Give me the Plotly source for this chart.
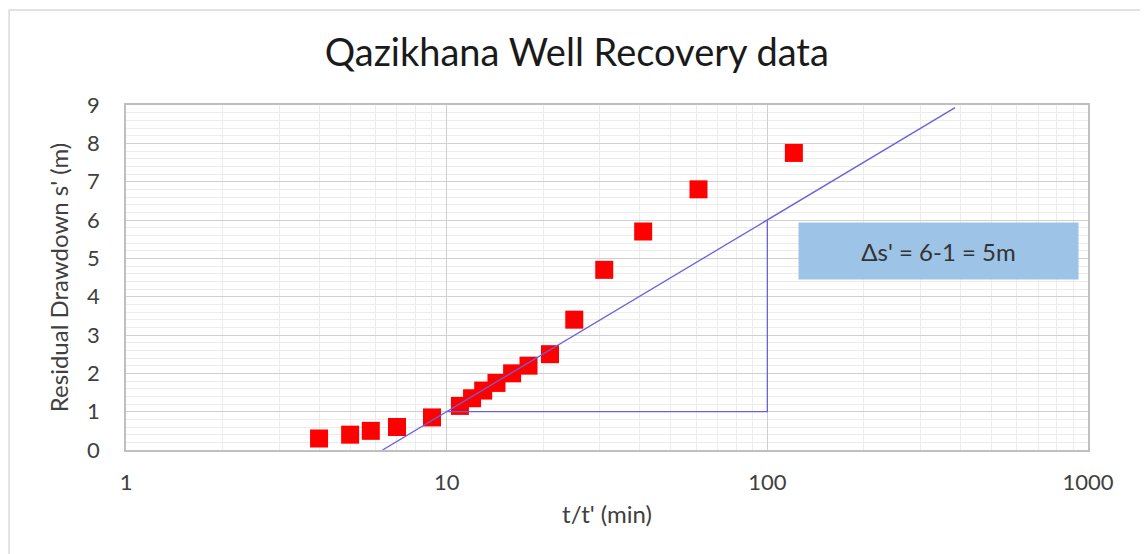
import plotly.graph_objects as go

# recovery data: t/t' (dimensionless time ratio) and residual drawdown s' (m)
t_ratio = [4, 5, 5.8, 7, 9, 11, 12, 13, 14.3, 16, 18, 21, 25, 31, 41, 61, 121]
residual = [0.3, 0.4, 0.5, 0.6, 0.85, 1.15, 1.35, 1.55, 1.75, 2.0, 2.2, 2.5, 3.4, 4.7, 5.7, 6.8, 7.75]

# fitted straight line (one log cycle = 5 m)
fit_t = [6.31, 385]
fit_s = [0, 8.93]

# slope triangle
tri_t = [10, 100, 100]
tri_s = [1, 1, 6]

x_ticks = [1, 10, 100, 1000]

font = "Lato, 'Open Sans', sans-serif"
line_col = "rgb(106,96,222)"

fig = go.Figure()

fig.add_trace(go.Scatter(
    x=t_ratio, y=residual, mode="markers",
    marker=dict(symbol="square", size=18, color="#ff0000"),
    showlegend=False
))
fig.add_trace(go.Scatter(
    x=fit_t, y=fit_s, mode="lines",
    line=dict(color=line_col, width=1.3), showlegend=False
))
fig.add_trace(go.Scatter(
    x=tri_t, y=tri_s, mode="lines",
    line=dict(color=line_col, width=1.3), showlegend=False
))

# text box with the drawdown difference
fig.add_annotation(
    x=2.533, y=5.18, xref="x", yref="y",
    text="Δs' = 6-1 = 5m", showarrow=False,
    width=277, height=54, bgcolor="#9dc3e6",
    font=dict(family=font, size=24, color="#333333")
)

# outer chart border
fig.add_shape(type="rect", xref="paper", yref="paper",
              x0=-0.1215, x1=1.2, y0=-0.5, y1=1.2754,
              line=dict(color="#d9d9d9", width=1.5), fillcolor="rgba(0,0,0,0)",
              layer="below")

fig.update_layout(
    width=1140, height=546,
    margin=dict(l=118, r=60, t=97, b=104),
    paper_bgcolor="white", plot_bgcolor="white",
    font=dict(family=font, color="#404040"),
    title=dict(text="Qazikhana Well Recovery data", x=0.499, xanchor="center",
               y=0.919, yanchor="middle", font=dict(size=38, color="#1a1a1a")),
)

fig.update_xaxes(
    type="log", range=[0, 3],
    tickvals=x_ticks, ticktext=[str(v) for v in x_ticks],
    tickfont=dict(size=22), ticks="", ticklabelstandoff=12,
    showgrid=True, gridcolor="#d0d0d0", gridwidth=1.3,
    minor=dict(dtick="D1", showgrid=True, gridcolor="#ececec", gridwidth=1),
    showline=True, linecolor="#bfbfbf", linewidth=1.5, mirror=True,
    zeroline=False,
    title=dict(text="t/t' (min)", font=dict(size=24), standoff=12),
)
fig.update_yaxes(
    range=[0, 9], dtick=1,
    tickfont=dict(size=22), ticks="", ticklabelstandoff=20,
    showgrid=True, gridcolor="#d0d0d0", gridwidth=1.3,
    minor=dict(dtick=0.2, showgrid=True, gridcolor="#ececec", gridwidth=1),
    showline=True, linecolor="#bfbfbf", linewidth=1.5, mirror=True,
    zeroline=False,
    title=dict(text="Residual Drawdown s' (m)", font=dict(size=24), standoff=12),
)

fig.write_html("out.html")
